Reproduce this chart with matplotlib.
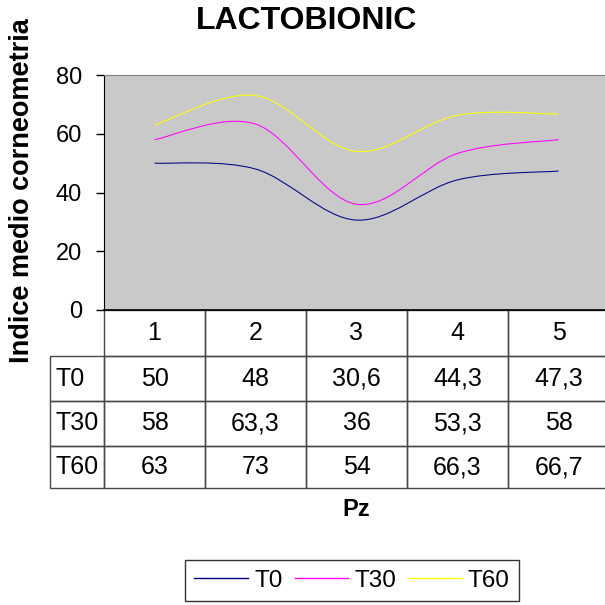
import numpy as np
import matplotlib.pyplot as plt
from matplotlib.path import Path
from matplotlib.patches import PathPatch
from matplotlib.lines import Line2D
from matplotlib.table import Table

plt.rcParams['font.family'] = ['Liberation Sans', 'DejaVu Sans']

# dati
pz = [1, 2, 3, 4, 5]
t0 = [50, 48, 30.6, 44.3, 47.3]
t30 = [58, 63.3, 36, 53.3, 58]
t60 = [63, 73, 54, 66.3, 66.7]
series_names = ['T0', 'T30', 'T60']
colors = ['#000080', '#ff00ff', '#ffff00']
cell_text = [['50', '48', '30,6', '44,3', '47,3'],
             ['58', '63,3', '36', '53,3', '58'],
             ['63', '73', '54', '66,3', '66,7']]


# linea smussata tipo Excel (bezier)
def smooth_path(x, y):
    pts = np.column_stack([x, y]).astype(float)
    ext = np.vstack([pts[0], pts, pts[-1]])
    verts = [pts[0]]
    codes = [Path.MOVETO]
    for i in range(len(pts) - 1):
        p0, p1, p2, p3 = ext[i], ext[i + 1], ext[i + 2], ext[i + 3]
        verts += [p1 + (p2 - p0) / 6, p2 - (p3 - p1) / 6, p2]
        codes += [Path.CURVE4] * 3
    return Path(verts, codes)


fig = plt.figure(figsize=(6.05, 6.05), dpi=100)
W = 605.0
ax = fig.add_axes([104 / W, 1 - 310 / W, 505 / W, 235 / W])
ax.set_facecolor('#c9c9c9')

for ys, c in zip([t0, t30, t60], colors):
    ax.add_patch(PathPatch(smooth_path(pz, ys), facecolor='none', edgecolor=c, lw=0.75))

ax.set_xlim(0.5, 5.5)
ax.set_ylim(0, 80)
ax.set_yticks([0, 20, 40, 60, 80])
ax.set_xticks([])
ax.tick_params(axis='y', labelsize=17, length=5.5, width=1, pad=10.5, direction='out')
ax.spines['top'].set_color('#808080')
ax.spines['right'].set_color('#808080')
ax.spines['left'].set_color('black')
ax.spines['bottom'].set_color('black')
ax.spines['bottom'].set_linewidth(1.2)

# tabella dati
tbl = Table(ax, bbox=[-54 / 505, -178 / 235, 559 / 505, 178 / 235])
lab_w, col_w = 54, 101
heights = [46, 45, 45, 42]
for j, p in enumerate(pz):
    tbl.add_cell(0, j + 1, col_w, heights[0], text=str(p), loc='center', edgecolor='#484848')
for i, name in enumerate(series_names):
    tbl.add_cell(i + 1, 0, lab_w, heights[i + 1], text=name, loc='left', edgecolor='#484848')
    for j in range(len(pz)):
        tbl.add_cell(i + 1, j + 1, col_w, heights[i + 1], text=cell_text[i][j], loc='center',
                     edgecolor='#484848')
tbl.auto_set_font_size(False)
tbl.set_fontsize(18)
for cell in tbl.get_celld().values():
    cell.set_linewidth(1)
    cell.set_facecolor('none')
ax.add_table(tbl)

fig.text(307 / W, 1 - 21 / W, 'LACTOBIONIC', fontsize=23, fontweight='bold', ha='center', va='center')
fig.text(22.5 / W, 1 - 191 / W, 'Indice medio corneometria', fontsize=19.5, fontweight='bold',
         rotation=90, ha='center', va='center')
fig.text(356 / W, 1 - 510 / W, 'Pz', fontsize=17, fontweight='bold', ha='center', va='center')

handles = [Line2D([], [], color=c, lw=1) for c in colors]
leg = fig.legend(handles, series_names, loc='upper center', bbox_to_anchor=(352 / W, 1 - 560 / W),
                 ncol=3, fontsize=17.5, frameon=True, fancybox=False, borderaxespad=0,
                 handlelength=2.2, handletextpad=0.25, columnspacing=0.5, borderpad=0.4)
leg.get_frame().set_edgecolor('black')
leg.get_frame().set_linewidth(1)

fig.savefig('out.png', dpi=100)
